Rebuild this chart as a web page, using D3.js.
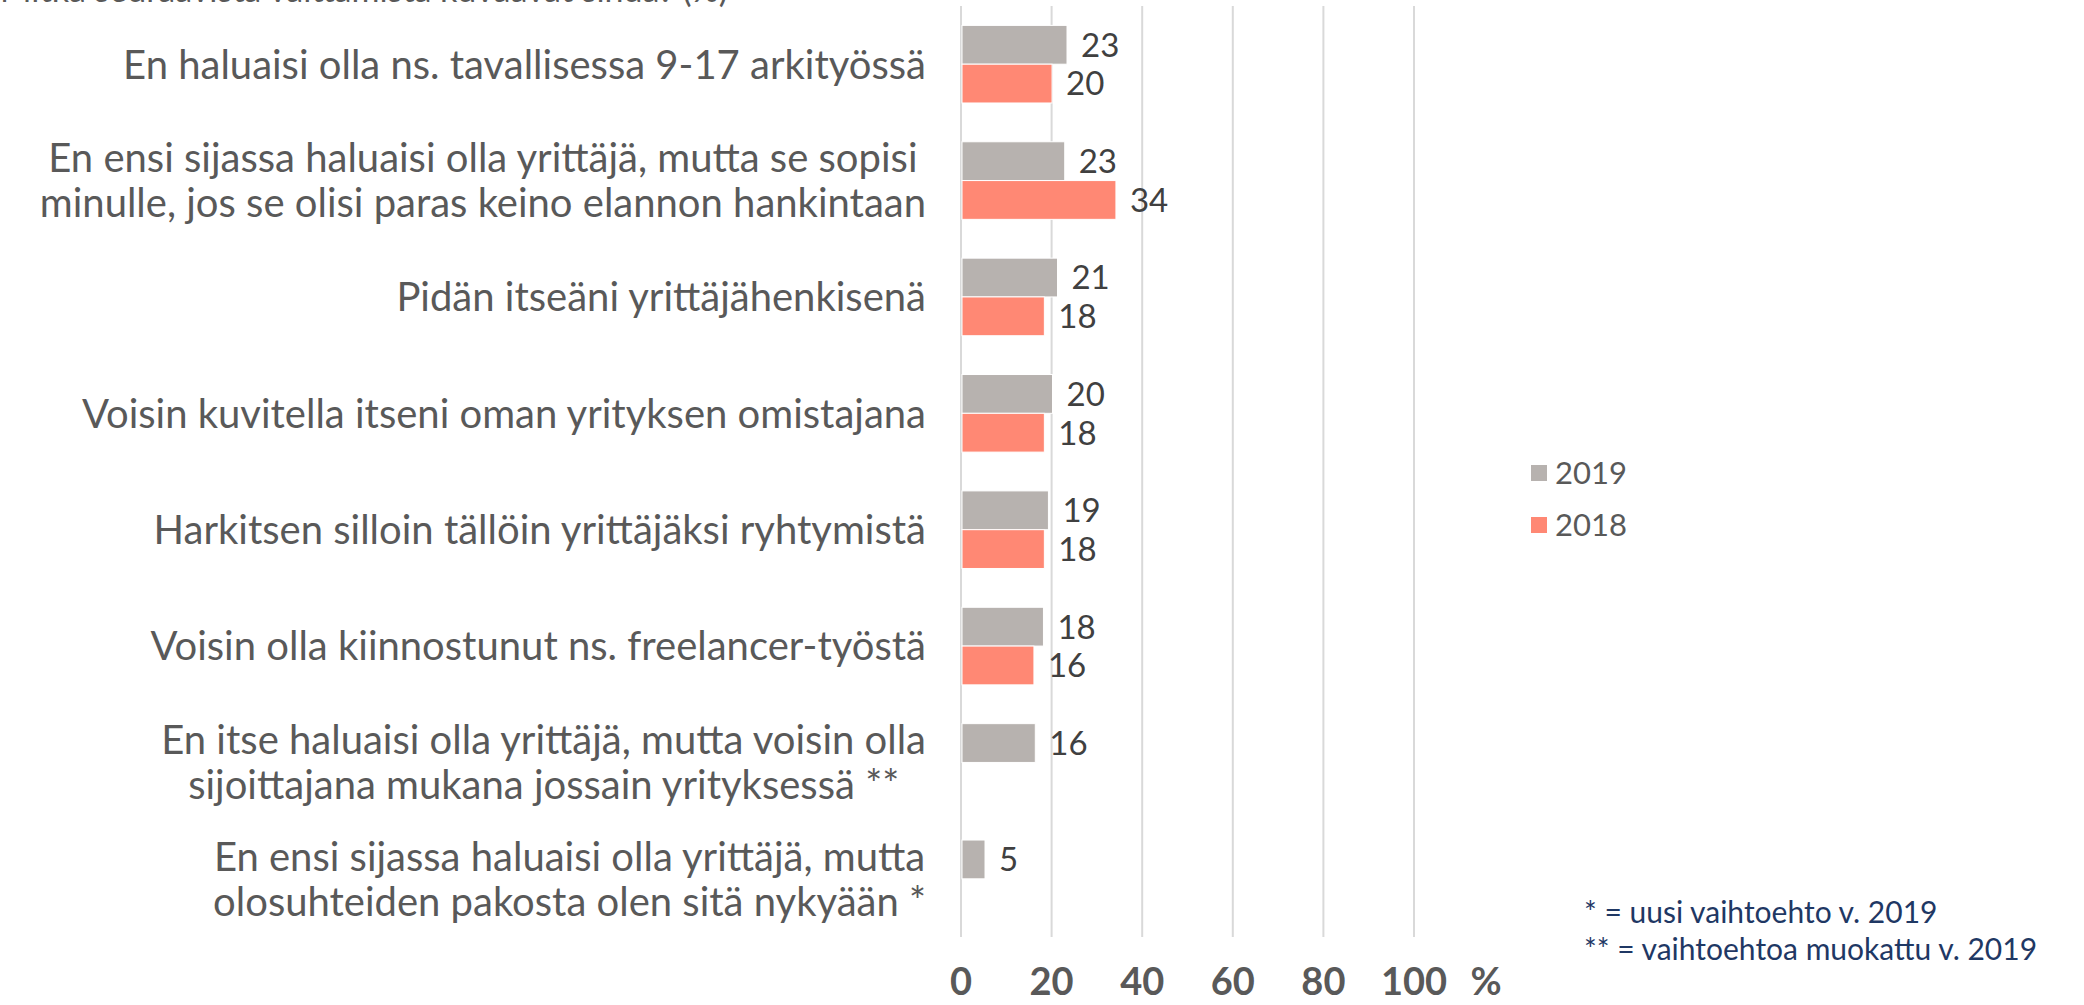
<!DOCTYPE html>
<html>
<head>
<meta charset="utf-8">
<script src="https://cdn.jsdelivr.net/npm/d3@7"></script>
<style>
  body { margin: 0; background: #fff; }
  svg { display: block; }
</style>
</head>
<body>
<div id="chart"></div>
<script>
// data
var categories = [
  "En haluaisi olla ns. tavallisessa 9-17 arkityössä",
  "En ensi sijassa haluaisi olla yrittäjä, mutta se sopisi\nminulle, jos se olisi paras keino elannon hankintaan",
  "Pidän itseäni yrittäjähenkisenä",
  "Voisin kuvitella itseni oman yrityksen omistajana",
  "Harkitsen silloin tällöin yrittäjäksi ryhtymistä",
  "Voisin olla kiinnostunut ns. freelancer-työstä",
  "En itse haluaisi olla yrittäjä, mutta voisin olla\nsijoittajana mukana jossain yrityksessä **",
  "En ensi sijassa haluaisi olla yrittäjä, mutta\nolosuhteiden pakosta olen sitä nykyään *"
];
var values2019 = [23.4, 22.9, 21.3, 20.2, 19.3, 18.2, 16.4, 5.3];
var values2018 = [20.1, 34.2, 18.4, 18.4, 18.4, 16.1, null, null];
var seriesNames = ["2019", "2018"];
var xTicks = [0, 20, 40, 60, 80, 100];
var notes = ["* = uusi vaihtoehto v. 2019", "** = vaihtoehtoa muokattu v. 2019"];

var colors = { "2019": "#b7b2af", "2018": "#ff8874" };
var font = "'Century Gothic', Lato, 'Open Sans', sans-serif";

var W = 2084, H = 1005;
var svg = d3.select("#chart").append("svg")
  .attr("width", W).attr("height", H)
  .style("font-family", font);

svg.append("rect").attr("width", W).attr("height", H).attr("fill", "#fff");

// heading cut off at the very top
svg.append("text")
  .attr("x", 0).attr("y", 2)
  .attr("fill", "#595959")
  .style("font-size", "34px")
  .text("Mitkä seuraavista väittämistä kuvaavat sinua? (%)");

var x = d3.scaleLinear().domain([0, 100]).range([961, 1414]);

var y0 = d3.scaleBand().domain(d3.range(categories.length)).range([6, 937]);
var y1 = d3.scaleBand().domain(seriesNames)
  .range([y0.bandwidth() / 6, y0.bandwidth() * 5 / 6]);

// gridlines
svg.append("g").selectAll("line")
  .data(xTicks)
  .enter().append("line")
  .attr("x1", function (d) { return x(d); })
  .attr("x2", function (d) { return x(d); })
  .attr("y1", 6).attr("y2", 937)
  .attr("stroke", "#d9d9d9")
  .attr("stroke-width", 2);

// bars
var rows = categories.map(function (c, i) {
  return { i: i, vals: [
    { s: "2019", v: values2019[i] },
    { s: "2018", v: values2018[i] }
  ].filter(function (d) { return d.v != null; }) };
});

var groups = svg.append("g").selectAll("g")
  .data(rows)
  .enter().append("g")
  .attr("transform", function (d) { return "translate(0," + y0(d.i) + ")"; });

groups.selectAll("rect")
  .data(function (d) { return d.vals; })
  .enter().append("rect")
  .attr("x", x(0) + 1)
  .attr("y", function (d) { return y1(d.s); })
  .attr("width", function (d) { return x(d.v) - x(0) - 1; })
  .attr("height", y1.bandwidth())
  .attr("fill", function (d) { return colors[d.s]; })
  .attr("stroke", "#fff")
  .attr("stroke-width", 1);

groups.selectAll("text")
  .data(function (d) { return d.vals; })
  .enter().append("text")
  .attr("x", function (d) { return x(d.v) + 14; })
  .attr("y", function (d) { return y1(d.s) + y1.bandwidth() / 2; })
  .attr("dy", "0.36em")
  .attr("fill", "#404040")
  .style("font-size", "33px")
  .text(function (d) { return Math.round(d.v); });

// category labels (centred block, right aligned to 926)
var labelRight = 926;
categories.forEach(function (c, i) {
  var lines = c.split("\n");
  var t = svg.append("text")
    .attr("text-anchor", "middle")
    .attr("fill", "#595959")
    .style("font-size", "40px");
  lines.forEach(function (l, k) {
    t.append("tspan")
      .attr("x", 0)
      .attr("y", y0(i) + y0.bandwidth() / 2 + (k - (lines.length - 1) / 2) * 45)
      .attr("dy", "0.36em")
      .text(l);
  });
  var w = t.node().getBBox().width;
  t.attr("transform", "translate(" + (labelRight - w / 2) + ",0)");
});

// bottom tick labels
svg.append("g").selectAll("text")
  .data(xTicks)
  .enter().append("text")
  .attr("x", function (d) { return x(d); })
  .attr("y", 995)
  .attr("text-anchor", "middle")
  .attr("fill", "#595959")
  .style("font-size", "38px")
  .style("font-weight", "bold")
  .text(function (d) { return d; });

svg.append("text")
  .attr("x", x(100) + 72)
  .attr("y", 995)
  .attr("text-anchor", "middle")
  .attr("fill", "#595959")
  .style("font-size", "38px")
  .style("font-weight", "bold")
  .text("%");

// legend
var legend = svg.append("g").selectAll("g")
  .data(seriesNames)
  .enter().append("g")
  .attr("transform", function (d, i) { return "translate(1531," + (473 + i * 52) + ")"; });

legend.append("rect")
  .attr("x", 0).attr("y", -8)
  .attr("width", 16).attr("height", 16)
  .attr("fill", function (d) { return colors[d]; });

legend.append("text")
  .attr("x", 24).attr("y", 0)
  .attr("dy", "0.36em")
  .attr("fill", "#595959")
  .style("font-size", "31px")
  .text(function (d) { return d; });

// footnotes
svg.append("g").selectAll("text")
  .data(notes)
  .enter().append("text")
  .attr("x", 1584)
  .attr("y", function (d, i) { return 912 + i * 37; })
  .attr("dy", "0.36em")
  .attr("fill", "#1f3864")
  .style("font-size", "30px")
  .text(function (d) { return d; });
</script>
</body>
</html>
